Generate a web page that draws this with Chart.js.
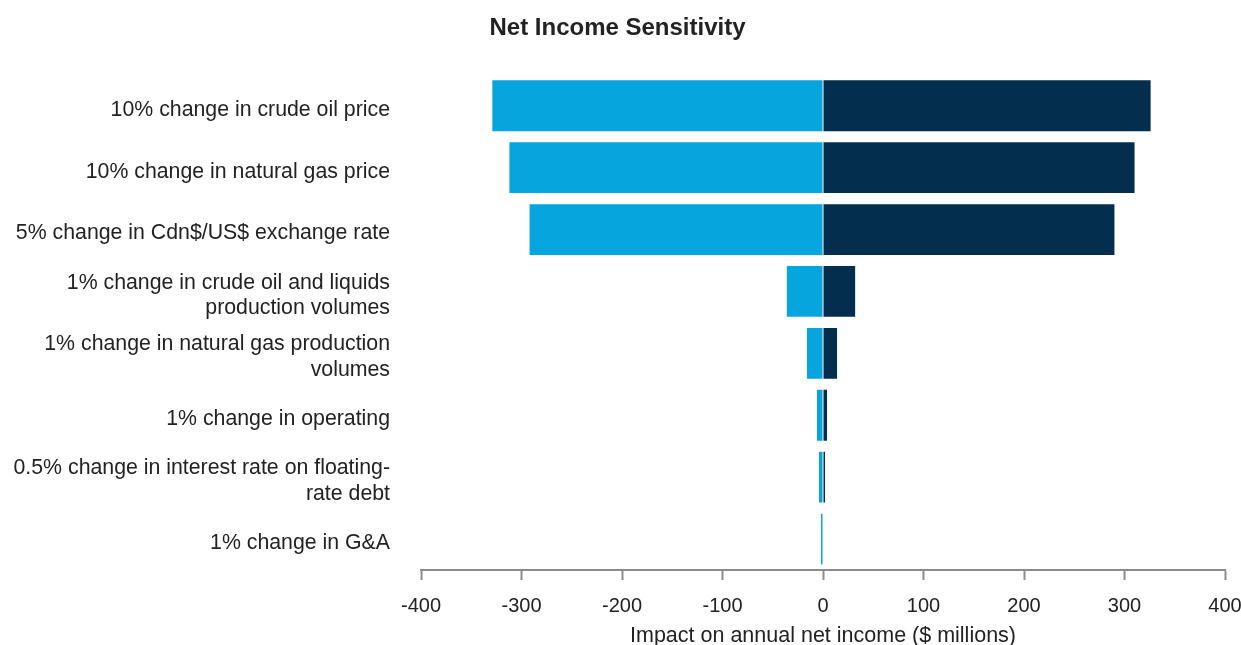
<!DOCTYPE html>
<html>
<head>
<meta charset="utf-8">
<script src="https://cdn.jsdelivr.net/npm/chart.js@4"></script>
<style>
html,body{margin:0;padding:0;background:#fff;}
#wrap{position:relative;width:1241px;height:645px;}
</style>
</head>
<body>
<div id="wrap"><canvas id="c" width="1241" height="645"></canvas></div>
<script>
const categories = [
  "10% change in crude oil price",
  "10% change in natural gas price",
  "5% change in Cdn$/US$ exchange rate",
  ["1% change in crude oil and liquids", "production volumes"],
  ["1% change in natural gas production", "volumes"],
  "1% change in operating",
  ["0.5% change in interest rate on floating-", "rate debt"],
  "1% change in G&A"
];
const decreaseValues = [-329, -312, -292, -36, -16, -6, -4, -2];
const increaseValues = [326, 310, 290, 32, 14, 4, 2, 0];
const xTicks = [-400, -300, -200, -100, 0, 100, 200, 300, 400];

const FONT = "'Liberation Sans', Arial, Helvetica, sans-serif";
new Chart(document.getElementById('c'), {
  type: 'bar',
  data: {
    labels: categories,
    datasets: [
      { label: 'Decrease', data: decreaseValues, backgroundColor: '#06A5DD', barPercentage: 0.82, categoryPercentage: 1 },
      { label: 'Increase', data: increaseValues, backgroundColor: '#032E4D', barPercentage: 0.82, categoryPercentage: 1 }
    ]
  },
  options: {
    indexAxis: 'y',
    responsive: false,
    animation: false,
    layout: { autoPadding: false, padding: { left: 10, right: 16, top: 10, bottom: 0 } },
    plugins: {
      legend: { display: false },
      tooltip: { enabled: false },
      title: {
        display: true,
        text: 'Net Income Sensitivity',
        color: '#222',
        font: { family: FONT, size: 24, weight: 'bold', lineHeight: 1.2 },
        padding: { top: 4, bottom: 32 }
      }
    },
    scales: {
      x: {
        stacked: true,
        min: -400, max: 400,
        afterBuildTicks: (s) => { s.ticks = xTicks.map(v => ({ value: v })); },
        grid: { drawOnChartArea: false, drawTicks: true, tickLength: 10, tickColor: '#8c8c8c', tickWidth: 2 },
        border: { display: true, color: '#8c8c8c', width: 2 },
        ticks: { color: '#222', font: { family: FONT, size: 20, lineHeight: 1.2 }, padding: 14, maxRotation: 0 },
        title: { display: true, text: 'Impact on annual net income ($ millions)', color: '#222', font: { family: FONT, size: 21.5, lineHeight: 0.8 }, padding: { top: 0, bottom: 0 } },
        afterFit: (s) => { s.height = 75; s.paddingLeft = 0; s.paddingRight = 0; }
      },
      y: {
        stacked: true,
        grid: { display: false, drawTicks: false },
        border: { display: false },
        ticks: { color: '#222', font: { family: FONT, size: 21.3, lineHeight: 1.2 }, padding: 31, autoSkip: false, labelOffset: 4 },
        afterFit: (s) => { s.width = 411; }
      }
    }
  }
});
</script>
</body>
</html>
